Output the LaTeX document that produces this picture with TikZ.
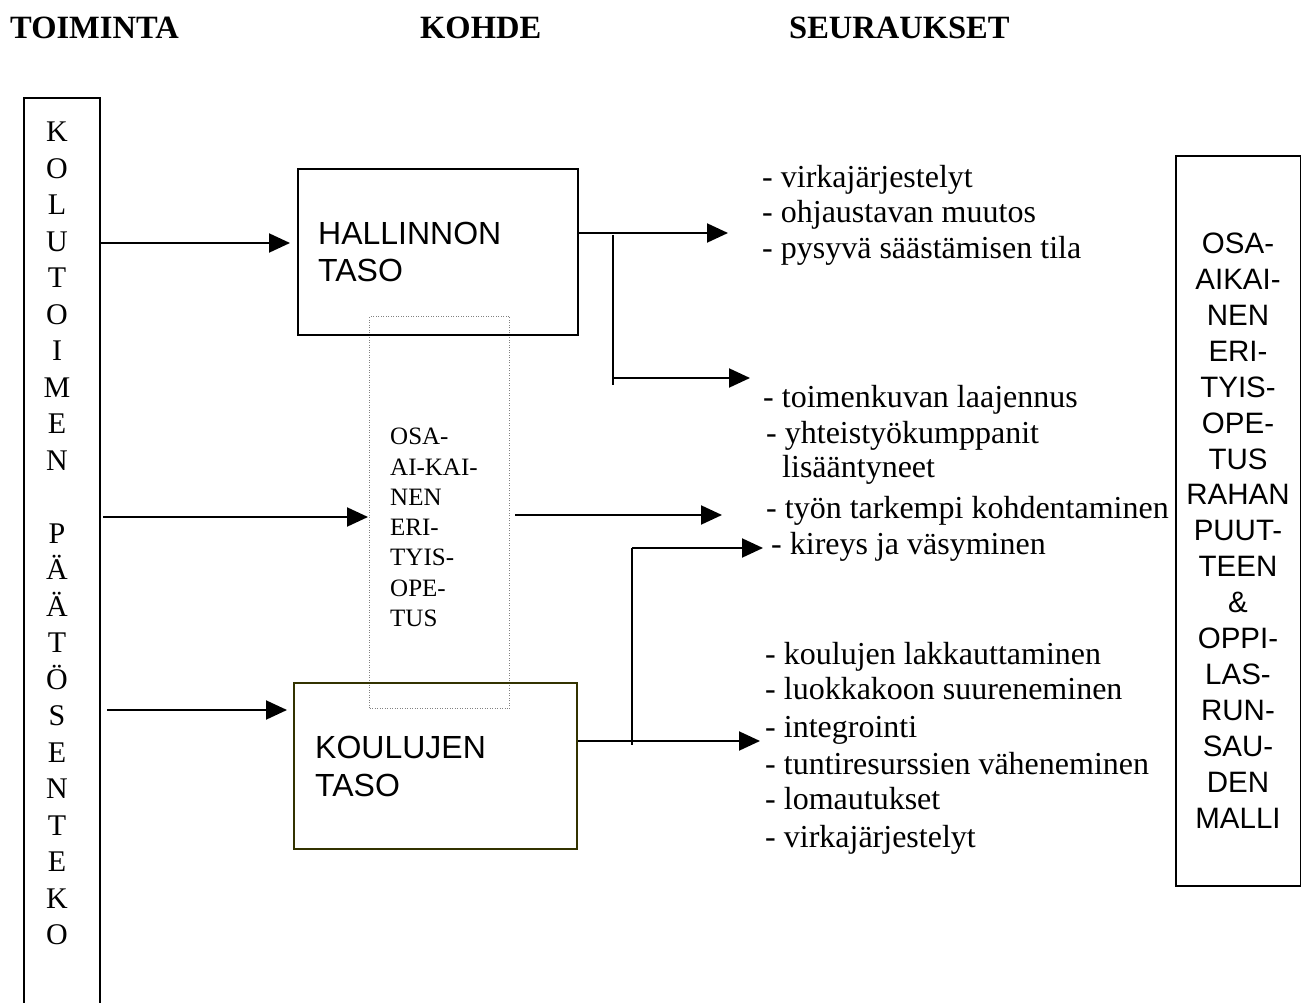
\documentclass[tikz,border=0pt]{standalone}
\usepackage{fontspec}
\setmainfont{Liberation Serif}
\newfontfamily\arialf{Liberation Sans}
\usetikzlibrary{arrows.meta}
\definecolor{olivedark}{RGB}{51,51,0}
\definecolor{dotgray}{RGB}{130,130,130}
\begin{document}
\begin{tikzpicture}[x=1pt,y=-1pt,
  box/.style={draw, line width=2pt, anchor=north west, inner sep=0pt},
  dotbox/.style={draw=dotgray, line width=1pt, dash pattern=on 1pt off 1.5pt, anchor=north west, inner sep=0pt},
  arr/.style={line width=2pt, -{Triangle[length=21pt,width=19pt]}},
  ln/.style={line width=2pt},
  thinln/.style={line width=1.5pt},
  lst/.style={anchor=west, inner sep=0pt, font=\fontsize{32}{36}\selectfont, text height=22pt, text depth=7pt},
  hdr/.style={anchor=west, inner sep=0pt, font=\fontsize{32.5}{36}\selectfont\bfseries},
  boxtxt/.style={anchor=west, inner sep=0pt, align=left, font=\arialf\fontsize{32}{37.5}\selectfont}
]
\useasboundingbox (0,0) rectangle (1301,1003);

% headers
\node[hdr] (h1) at (10,28) {TOIMINTA};
\node[hdr] (h2) at (420,28) {KOHDE};
\node[hdr] (h3) at (789,28) {SEURAUKSET};

% left box
\node[box, minimum width=76pt, minimum height=930pt] (lbox) at (23,97) {};
\node[inner sep=0pt, align=center, font=\fontsize{30}{36.5}\selectfont] (ltxt) at (57,533.5)
  {K\\O\\L\\U\\T\\O\\I\\M\\E\\N\\[36.5pt]P\\Ä\\Ä\\T\\Ö\\S\\E\\N\\T\\E\\K\\O};

% middle boxes
\node[dotbox, minimum width=140pt, minimum height=392pt] (osa) at (369,316) {};
\node[box, minimum width=280pt, minimum height=166pt] (hall) at (297,168) {};
\node[boxtxt] (halltxt) at (318,252) {HALLINNON\\TASO};
\node[box, draw=olivedark, minimum width=283pt, minimum height=166pt] (koul) at (293,682) {};
\node[boxtxt] (koultxt) at (315,766.5) {KOULUJEN\\TASO};
\node[anchor=west, inner sep=0pt, align=left, font=\fontsize{25}{30.3}\selectfont] (osatxt) at (390,527.5)
  {OSA-\\AI-KAI-\\NEN\\ERI-\\TYIS-\\OPE-\\TUS};

% right box
\node[box, minimum width=125pt, minimum height=730pt] (rbox) at (1175,155) {};
\node[inner sep=0pt, align=center, font=\arialf\fontsize{29.5}{35.9}\selectfont] (rtxt) at (1238,530.5)
  {OSA-\\AIKAI-\\NEN\\ERI-\\TYIS-\\OPE-\\TUS\\RAHAN\\PUUT-\\TEEN\\\&\\OPPI-\\LAS-\\RUN-\\SAU-\\DEN\\MALLI};

% consequence lists
\node[lst] (a1) at (762,180) {- virkajärjestelyt};
\node[lst] (a2) at (762,215) {- ohjaustavan muutos};
\node[lst] (a3) at (762,251) {- pysyvä säästämisen tila};

\node[lst] (b1) at (763,400) {- toimenkuvan laajennus};
\node[lst] (b2) at (766,436) {- yhteistyökumppanit};
\node[lst] (b3) at (782,470) {lisääntyneet};
\node[lst] (b4) at (766,511) {- työn tarkempi kohdentaminen};
\node[lst] (b5) at (771,547) {- kireys ja väsyminen};

\node[lst] (c1) at (765,657) {- koulujen lakkauttaminen};
\node[lst] (c2) at (765,692) {- luokkakoon suureneminen};
\node[lst] (c3) at (765,730) {- integrointi};
\node[lst] (c4) at (765,767) {- tuntiresurssien väheneminen};
\node[lst] (c5) at (765,802) {- lomautukset};
\node[lst] (c6) at (765,840) {- virkajärjestelyt};

% free ends and branch points
\coordinate (t1) at (728,233);
\coordinate (v1t) at (613,235);
\coordinate (v1b) at (613,385);
\coordinate (v1a) at (613,378);
\coordinate (t2) at (750,378);
\coordinate (t3) at (722,515);
\coordinate (t4) at (760,741);
\coordinate (v2t) at (632,548);
\coordinate (v2b) at (632,745);
\coordinate (t5) at (763,548);

% arrows from left box
\draw[arr, shorten >=7pt] (lbox.east |- 0,243) -- (hall.west |- 0,243);
\draw[arr, shorten <=2pt, shorten >=1pt] (lbox.east |- 0,517) -- (osa.west |- 0,517);
\draw[arr, shorten <=6pt, shorten >=6pt] (lbox.east |- 0,710) -- (koul.west |- 0,710);

% from HALLINNON
\draw[arr] (hall.east |- t1) -- (t1);
\draw[thinln] (v1t) -- (v1b);
\draw[arr] (v1a) -- (t2);

% from dotted box
\draw[arr, shorten <=5pt] (osa.east |- t3) -- (t3);

% from KOULUJEN
\draw[arr] (koul.east |- t4) -- (t4);
\draw[ln] (v2t) -- (v2b);
\draw[arr] (v2t) -- (t5);
\end{tikzpicture}
\end{document}
